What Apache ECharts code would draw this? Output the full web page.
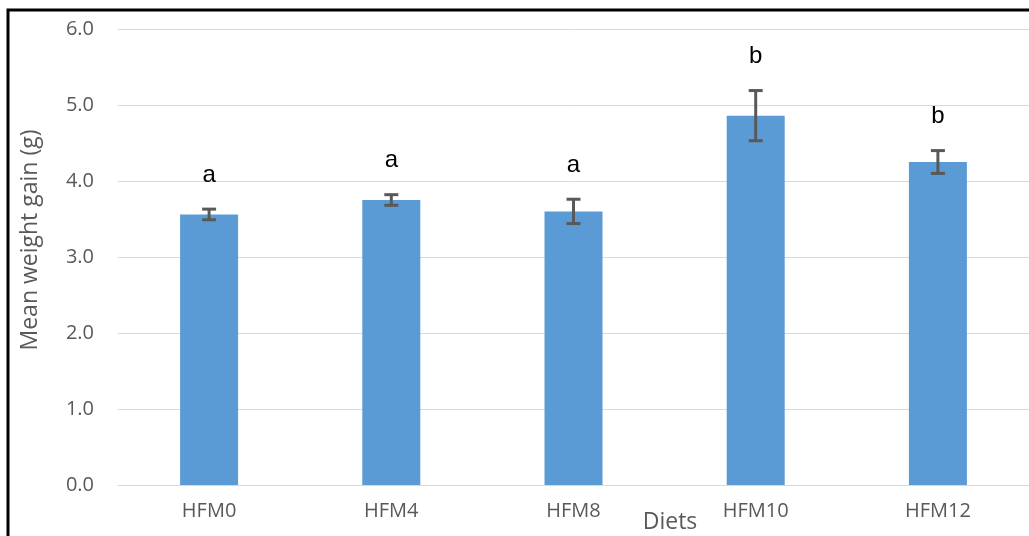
<!DOCTYPE html>
<html>
<head>
<meta charset="utf-8">
<script src="https://cdn.jsdelivr.net/npm/echarts@6/dist/echarts.min.js"></script>
<style>
  html, body { margin: 0; padding: 0; background: #fff; }
  #chart { width: 1029px; height: 536px; }
</style>
</head>
<body>
<div id="chart"></div>
<script>
// Mean weight gain per diet, with standard error and significance letters
const diets = ['HFM0', 'HFM4', 'HFM8', 'HFM10', 'HFM12'];
const meanGain = [3.56, 3.75, 3.60, 4.86, 4.25];
const stdErr = [0.07, 0.07, 0.16, 0.33, 0.15];
const groups = ['a', 'a', 'a', 'b', 'b'];
const yTicks = [0, 1, 2, 3, 4, 5, 6];

const chart = echarts.init(document.getElementById('chart'));
const gray = '#595959';
const font = '"Open Sans", "Liberation Sans", sans-serif';

const errData = diets.map((d, i) => [i, meanGain[i] - stdErr[i], meanGain[i] + stdErr[i], groups[i]]);

chart.setOption({
  animation: false,
  grid: { left: 118, top: 29, width: 920, height: 456, containLabel: false },
  xAxis: {
    type: 'category',
    data: diets,
    axisLine: { lineStyle: { color: '#D9D9D9', width: 1 } },
    axisTick: { show: false },
    axisLabel: { color: gray, fontSize: 20, fontFamily: font, margin: 16 }
  },
  yAxis: {
    type: 'value',
    min: yTicks[0],
    max: yTicks[yTicks.length - 1],
    interval: 1,
    axisLine: { show: false },
    axisTick: { show: false },
    splitLine: { lineStyle: { color: '#D9D9D9', width: 1 } },
    axisLabel: {
      color: gray, fontSize: 20, fontFamily: font, margin: 24,
      formatter: v => v.toFixed(1)
    }
  },
  graphic: [
    {
      type: 'rect', silent: true,
      shape: { x: 8, y: 10, width: 1060, height: 560 },
      style: { fill: 'none', stroke: '#000', lineWidth: 3 }
    },
    {
      type: 'text', x: 30, y: 240, rotation: Math.PI / 2,
      style: {
        text: 'Mean weight gain (g)', fill: gray, fontSize: 23, fontFamily: font,
        align: 'center', verticalAlign: 'middle'
      }
    },
    {
      type: 'text', x: 670, y: 522,
      style: {
        text: 'Diets', fill: gray, fontSize: 23, fontFamily: font,
        align: 'center', verticalAlign: 'middle'
      }
    }
  ],
  series: [
    {
      type: 'bar',
      data: meanGain,
      barWidth: 58,
      itemStyle: { color: '#5B9BD5' }
    },
    {
      type: 'custom',
      data: errData,
      z: 5,
      renderItem: function (params, api) {
        const x = api.coord([api.value(0), 0])[0];
        const lo = api.coord([api.value(0), api.value(1)])[1];
        const hi = api.coord([api.value(0), api.value(2)])[1];
        const cap = 7;
        const st = { stroke: '#595959', lineWidth: 3 };
        return {
          type: 'group',
          children: [
            { type: 'line', shape: { x1: x, y1: hi, x2: x, y2: lo }, style: st },
            { type: 'line', shape: { x1: x - cap, y1: hi, x2: x + cap, y2: hi }, style: st },
            { type: 'line', shape: { x1: x - cap, y1: lo, x2: x + cap, y2: lo }, style: st },
            {
              type: 'text', x: x, y: hi - 22,
              style: {
                text: api.value(3), fill: '#000', fontSize: 24,
                fontFamily: '"Liberation Sans", Arial, sans-serif',
                align: 'center', verticalAlign: 'bottom'
              }
            }
          ]
        };
      }
    }
  ]
});
</script>
</body>
</html>
